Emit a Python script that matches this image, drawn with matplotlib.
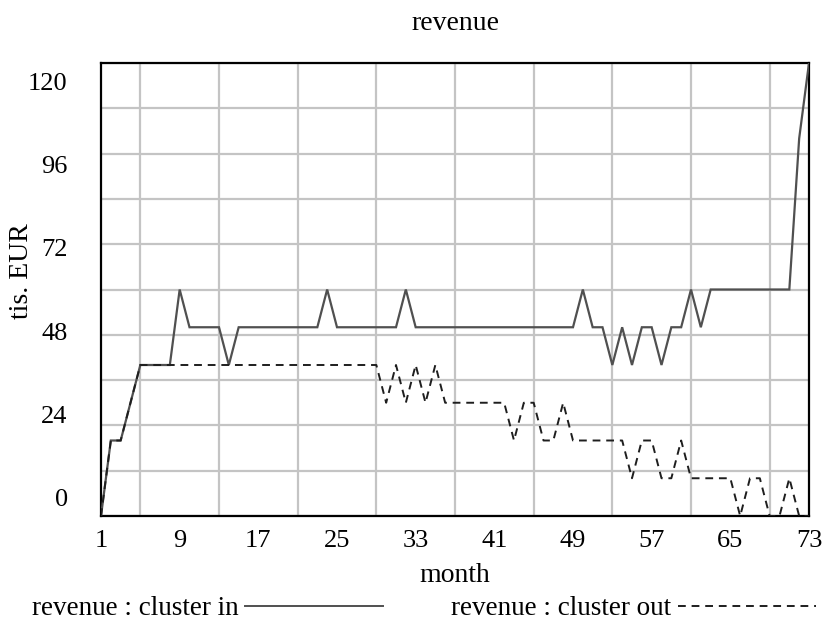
import numpy as np
import matplotlib
matplotlib.use("Agg")
import matplotlib.pyplot as plt
from matplotlib.lines import Line2D

plt.rcParams['font.family'] = ['Liberation Serif', 'DejaVu Serif']

months = list(range(1, 74))
cluster_in = [0, 20, 20, 30, 40, 40, 40, 40, 60, 50,
              50, 50, 50, 40, 50, 50, 50, 50, 50, 50,
              50, 50, 50, 60, 50, 50, 50, 50, 50, 50,
              50, 60, 50, 50, 50, 50, 50, 50, 50, 50,
              50, 50, 50, 50, 50, 50, 50, 50, 50, 60,
              50, 50, 40, 50, 40, 50, 50, 40, 50, 50,
              60, 50, 60, 60, 60, 60, 60, 60, 60, 60,
              60, 100, 120]
cluster_out = [0, 20, 20, 30, 40, 40, 40, 40, 40, 40,
               40, 40, 40, 40, 40, 40, 40, 40, 40, 40,
               40, 40, 40, 40, 40, 40, 40, 40, 40, 30,
               40, 30, 40, 30, 40, 30, 30, 30, 30, 30,
               30, 30, 20, 30, 30, 20, 20, 30, 20, 20,
               20, 20, 20, 20, 10, 20, 20, 10, 10, 20,
               10, 10, 10, 10, 10, 0, 10, 10, 0, 0,
               10, 0, 0]
x_tick_labels = [1, 9, 17, 25, 33, 41, 49, 57, 65, 73]
y_tick_labels = [0, 24, 48, 72, 96, 120]

fig = plt.figure(figsize=(8.26, 6.23), dpi=100)
ax = fig.add_axes([101/826, 1-516/623, (809-101)/826, (516-63)/623])

ax.plot(months, cluster_in, color='#505050', lw=1.6, solid_joinstyle='miter', zorder=3)
ax.plot(months, cluster_out, color='#1e1e1e', lw=1.4, dashes=(4, 3), zorder=4)

ax.set_xlim(1, 73)
ax.set_ylim(0, 120)

# grid every 4 months / 12 units
ax.set_xticks(np.arange(1, 74, 4), minor=True)
ax.set_yticks(np.arange(0, 121, 12), minor=True)
ax.grid(True, which='minor', color='#c4c4c4', lw=1.6)
ax.set_axisbelow(True)

ax.set_xticks(x_tick_labels)
ax.set_xticklabels([str(v) for v in x_tick_labels])
# label positions as placed in the reference (spread inside the axis range)
ypos = np.linspace(4.8, 115.2, len(y_tick_labels))
ax.set_yticks(ypos)
ax.set_yticklabels([str(v) for v in y_tick_labels])
ax.tick_params(which='both', length=0)
ax.tick_params(axis='x', labelsize=19, pad=10)
ax.tick_params(axis='y', labelsize=19, pad=24)

for s in ax.spines.values():
    s.set_linewidth(1.6)
    s.set_color('black')

ax.set_title('revenue', fontsize=20, pad=24)
ax.set_xlabel('month', fontsize=20, labelpad=8)
ax.set_ylabel('tis. EUR', fontsize=20)
ax.yaxis.set_label_coords(-0.095, 0.54)

handles = [Line2D([], [], color='#505050', lw=1.4),
           Line2D([], [], color='#1e1e1e', lw=1.4, dashes=(4, 3))]
fig.legend(handles, ['revenue : cluster in', 'revenue : cluster out'],
           loc='lower center', bbox_to_anchor=(0.513, -0.036), ncol=2,
           frameon=False, fontsize=19.5, markerfirst=False,
           handlelength=5.1, handletextpad=0.25, columnspacing=2.5)

fig.savefig('out.png', dpi=100)
